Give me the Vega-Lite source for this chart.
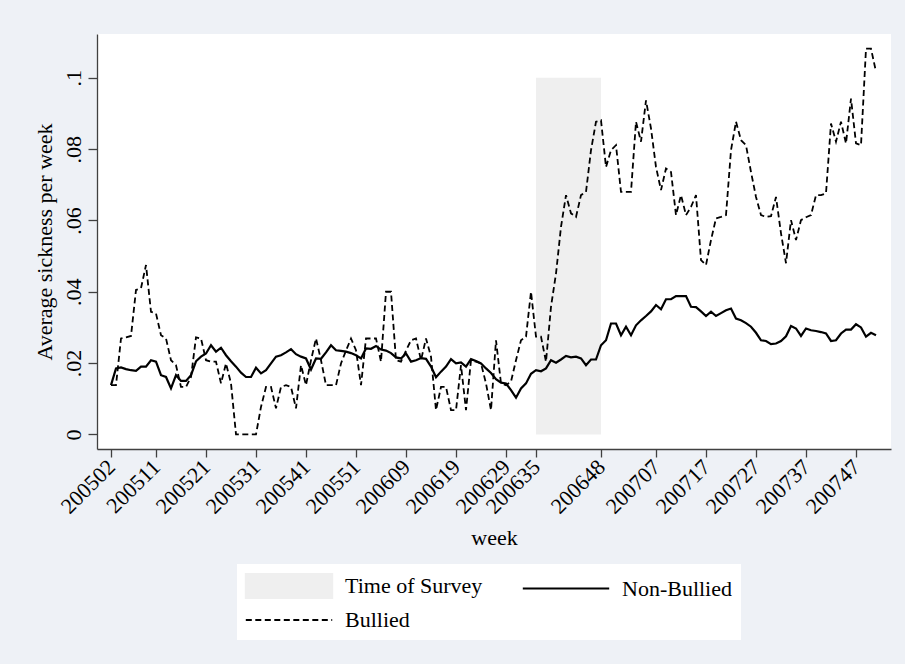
{
  "$schema": "https://vega.github.io/schema/vega-lite/v6.json",
  "width": 794,
  "height": 415,
  "autosize": "none",
  "padding": {"left": 97, "top": 34, "right": 14, "bottom": 215},
  "background": "#eef1f6",
  "config": {
    "view": {"stroke": null, "fill": "white"},
    "font": "Liberation Serif",
    "axis": {
      "labelFont": "Liberation Serif",
      "titleFont": "Liberation Serif",
      "labelFontSize": 22,
      "titleFontSize": 22,
      "titleFontWeight": "normal",
      "labelColor": "black",
      "titleColor": "black",
      "domainColor": "#404040",
      "tickColor": "#404040",
      "domainWidth": 1.3,
      "tickWidth": 1.3,
      "grid": false
    },
    "legend": {
      "labelFont": "Liberation Serif",
      "labelFontSize": 22,
      "labelColor": "black"
    }
  },
  "datasets": {
    "sickness": [
      {"t":0,"nonbullied":0.0138,"bullied":0.0138},
      {"t":1,"nonbullied":0.0185,"bullied":0.0138},
      {"t":2,"nonbullied":0.0188,"bullied":0.0269},
      {"t":3,"nonbullied":0.0183,"bullied":0.0272},
      {"t":4,"nonbullied":0.018,"bullied":0.0276},
      {"t":5,"nonbullied":0.0178,"bullied":0.0405},
      {"t":6,"nonbullied":0.019,"bullied":0.041},
      {"t":7,"nonbullied":0.019,"bullied":0.0475},
      {"t":8,"nonbullied":0.0208,"bullied":0.0344},
      {"t":9,"nonbullied":0.0204,"bullied":0.0339},
      {"t":10,"nonbullied":0.0166,"bullied":0.0278},
      {"t":11,"nonbullied":0.0161,"bullied":0.0269},
      {"t":12,"nonbullied":0.0129,"bullied":0.0208},
      {"t":13,"nonbullied":0.0166,"bullied":0.0194},
      {"t":14,"nonbullied":0.015,"bullied":0.0133},
      {"t":15,"nonbullied":0.015,"bullied":0.0133},
      {"t":16,"nonbullied":0.0166,"bullied":0.0161},
      {"t":17,"nonbullied":0.0205,"bullied":0.0272},
      {"t":18,"nonbullied":0.0218,"bullied":0.0269},
      {"t":19,"nonbullied":0.0227,"bullied":0.0208},
      {"t":20,"nonbullied":0.025,"bullied":0.0204},
      {"t":21,"nonbullied":0.0232,"bullied":0.0204},
      {"t":22,"nonbullied":0.0243,"bullied":0.0143},
      {"t":23,"nonbullied":0.0222,"bullied":0.0199},
      {"t":24,"nonbullied":0.0205,"bullied":0.0143},
      {"t":25,"nonbullied":0.019,"bullied":0},
      {"t":26,"nonbullied":0.0173,"bullied":0},
      {"t":27,"nonbullied":0.0161,"bullied":0},
      {"t":28,"nonbullied":0.0161,"bullied":0},
      {"t":29,"nonbullied":0.0187,"bullied":0},
      {"t":30,"nonbullied":0.0171,"bullied":0.0077},
      {"t":31,"nonbullied":0.018,"bullied":0.0133},
      {"t":32,"nonbullied":0.0199,"bullied":0.0133},
      {"t":33,"nonbullied":0.0218,"bullied":0.0073},
      {"t":34,"nonbullied":0.0222,"bullied":0.0133},
      {"t":35,"nonbullied":0.023,"bullied":0.0138},
      {"t":36,"nonbullied":0.0239,"bullied":0.0133},
      {"t":37,"nonbullied":0.0225,"bullied":0.0073},
      {"t":38,"nonbullied":0.0218,"bullied":0.0194},
      {"t":39,"nonbullied":0.0213,"bullied":0.0138},
      {"t":40,"nonbullied":0.0182,"bullied":0.0208},
      {"t":41,"nonbullied":0.0213,"bullied":0.0269},
      {"t":42,"nonbullied":0.0212,"bullied":0.0208},
      {"t":43,"nonbullied":0.023,"bullied":0.0138},
      {"t":44,"nonbullied":0.025,"bullied":0.0138},
      {"t":45,"nonbullied":0.0236,"bullied":0.0138},
      {"t":46,"nonbullied":0.0234,"bullied":0.0199},
      {"t":47,"nonbullied":0.0232,"bullied":0.0235},
      {"t":48,"nonbullied":0.0228,"bullied":0.0269},
      {"t":49,"nonbullied":0.0222,"bullied":0.0236},
      {"t":50,"nonbullied":0.0213,"bullied":0.0138},
      {"t":51,"nonbullied":0.0241,"bullied":0.0269},
      {"t":52,"nonbullied":0.024,"bullied":0.0269},
      {"t":53,"nonbullied":0.0248,"bullied":0.0269},
      {"t":54,"nonbullied":0.0238,"bullied":0.0204},
      {"t":55,"nonbullied":0.0235,"bullied":0.04},
      {"t":56,"nonbullied":0.0228,"bullied":0.04},
      {"t":57,"nonbullied":0.0216,"bullied":0.0208},
      {"t":58,"nonbullied":0.0213,"bullied":0.0204},
      {"t":59,"nonbullied":0.0227,"bullied":0.0235},
      {"t":60,"nonbullied":0.0204,"bullied":0.0264},
      {"t":61,"nonbullied":0.0208,"bullied":0.0269},
      {"t":62,"nonbullied":0.0214,"bullied":0.0208},
      {"t":63,"nonbullied":0.0212,"bullied":0.0269},
      {"t":64,"nonbullied":0.019,"bullied":0.0218},
      {"t":65,"nonbullied":0.016,"bullied":0.0068},
      {"t":66,"nonbullied":0.0176,"bullied":0.0133},
      {"t":67,"nonbullied":0.019,"bullied":0.0133},
      {"t":68,"nonbullied":0.0211,"bullied":0.0068},
      {"t":69,"nonbullied":0.0199,"bullied":0.0068},
      {"t":70,"nonbullied":0.0202,"bullied":0.0194},
      {"t":71,"nonbullied":0.019,"bullied":0.0068},
      {"t":72,"nonbullied":0.0211,"bullied":0.0208},
      {"t":73,"nonbullied":0.0206,"bullied":0.0204},
      {"t":74,"nonbullied":0.0199,"bullied":0.0199},
      {"t":75,"nonbullied":0.0185,"bullied":0.0143},
      {"t":76,"nonbullied":0.0172,"bullied":0.0068},
      {"t":77,"nonbullied":0.0155,"bullied":0.0264},
      {"t":78,"nonbullied":0.0145,"bullied":0.0143},
      {"t":79,"nonbullied":0.0143,"bullied":0.0138},
      {"t":80,"nonbullied":0.0124,"bullied":0.0148},
      {"t":81,"nonbullied":0.0103,"bullied":0.0208},
      {"t":82,"nonbullied":0.0129,"bullied":0.0264},
      {"t":83,"nonbullied":0.0143,"bullied":0.0274},
      {"t":84,"nonbullied":0.017,"bullied":0.04},
      {"t":85,"nonbullied":0.018,"bullied":0.0274},
      {"t":86,"nonbullied":0.0177,"bullied":0.0274},
      {"t":87,"nonbullied":0.0185,"bullied":0.0204},
      {"t":88,"nonbullied":0.0208,"bullied":0.0358},
      {"t":89,"nonbullied":0.0201,"bullied":0.0451},
      {"t":90,"nonbullied":0.021,"bullied":0.0582},
      {"t":91,"nonbullied":0.022,"bullied":0.0671},
      {"t":92,"nonbullied":0.0216,"bullied":0.062},
      {"t":93,"nonbullied":0.0218,"bullied":0.061},
      {"t":94,"nonbullied":0.0213,"bullied":0.0671},
      {"t":95,"nonbullied":0.0194,"bullied":0.068},
      {"t":96,"nonbullied":0.021,"bullied":0.0797},
      {"t":97,"nonbullied":0.021,"bullied":0.0877},
      {"t":98,"nonbullied":0.025,"bullied":0.0881},
      {"t":99,"nonbullied":0.0264,"bullied":0.075},
      {"t":100,"nonbullied":0.0311,"bullied":0.0797},
      {"t":101,"nonbullied":0.0311,"bullied":0.0811},
      {"t":102,"nonbullied":0.0278,"bullied":0.068},
      {"t":103,"nonbullied":0.0302,"bullied":0.068},
      {"t":104,"nonbullied":0.0278,"bullied":0.068},
      {"t":105,"nonbullied":0.0306,"bullied":0.0877},
      {"t":106,"nonbullied":0.032,"bullied":0.0821},
      {"t":107,"nonbullied":0.0332,"bullied":0.0937},
      {"t":108,"nonbullied":0.0345,"bullied":0.0858},
      {"t":109,"nonbullied":0.0363,"bullied":0.075},
      {"t":110,"nonbullied":0.0351,"bullied":0.0685},
      {"t":111,"nonbullied":0.0379,"bullied":0.0746},
      {"t":112,"nonbullied":0.0379,"bullied":0.0736},
      {"t":113,"nonbullied":0.0388,"bullied":0.0615},
      {"t":114,"nonbullied":0.0388,"bullied":0.0671},
      {"t":115,"nonbullied":0.0388,"bullied":0.0615},
      {"t":116,"nonbullied":0.0358,"bullied":0.0638},
      {"t":117,"nonbullied":0.0357,"bullied":0.0671},
      {"t":118,"nonbullied":0.0345,"bullied":0.0489},
      {"t":119,"nonbullied":0.0332,"bullied":0.0475},
      {"t":120,"nonbullied":0.0344,"bullied":0.0545},
      {"t":121,"nonbullied":0.0332,"bullied":0.0606},
      {"t":122,"nonbullied":0.034,"bullied":0.061},
      {"t":123,"nonbullied":0.0348,"bullied":0.0615},
      {"t":124,"nonbullied":0.0353,"bullied":0.0797},
      {"t":125,"nonbullied":0.0325,"bullied":0.0877},
      {"t":126,"nonbullied":0.032,"bullied":0.0825},
      {"t":127,"nonbullied":0.0312,"bullied":0.0811},
      {"t":128,"nonbullied":0.0302,"bullied":0.0736},
      {"t":129,"nonbullied":0.0285,"bullied":0.0666},
      {"t":130,"nonbullied":0.0264,"bullied":0.0615},
      {"t":131,"nonbullied":0.0262,"bullied":0.061},
      {"t":132,"nonbullied":0.0253,"bullied":0.0612},
      {"t":133,"nonbullied":0.0255,"bullied":0.0666},
      {"t":134,"nonbullied":0.0262,"bullied":0.0564},
      {"t":135,"nonbullied":0.0275,"bullied":0.048},
      {"t":136,"nonbullied":0.0304,"bullied":0.0601},
      {"t":137,"nonbullied":0.0297,"bullied":0.0545},
      {"t":138,"nonbullied":0.0276,"bullied":0.0601},
      {"t":139,"nonbullied":0.0297,"bullied":0.0609},
      {"t":140,"nonbullied":0.0292,"bullied":0.0615},
      {"t":141,"nonbullied":0.029,"bullied":0.0671},
      {"t":142,"nonbullied":0.0287,"bullied":0.0671},
      {"t":143,"nonbullied":0.0283,"bullied":0.0676},
      {"t":144,"nonbullied":0.0262,"bullied":0.0872},
      {"t":145,"nonbullied":0.0264,"bullied":0.0821},
      {"t":146,"nonbullied":0.0283,"bullied":0.0877},
      {"t":147,"nonbullied":0.0294,"bullied":0.0816},
      {"t":148,"nonbullied":0.0294,"bullied":0.0942},
      {"t":149,"nonbullied":0.0309,"bullied":0.0816},
      {"t":150,"nonbullied":0.03,"bullied":0.0811},
      {"t":151,"nonbullied":0.0274,"bullied":0.1082},
      {"t":152,"nonbullied":0.0285,"bullied":0.1082},
      {"t":153,"nonbullied":0.0278,"bullied":0.1017}
    ],
    "survey": [
      {"start": 85, "end": 98, "low": 0, "high": 0.1}
    ]
  },
  "layer": [
    {
      "data": {"name": "survey"},
      "mark": {"type": "rect"},
      "encoding": {
        "x": {
          "field": "start",
          "type": "quantitative",
          "scale": {"domain": [-2.8, 156], "nice": false, "zero": false},
          "axis": {
            "title": "week",
            "values": [0, 9, 19, 29, 39, 49, 59, 69, 79, 85, 98, 109, 119, 129, 139, 149],
            "labelExpr": "datum.value <= 50 ? '2005' + (datum.value < 8 ? '0' : '') + (datum.value + 2) : datum.value <= 102 ? '2006' + (datum.value < 60 ? '0' : '') + (datum.value - 50) : '2007' + (datum.value < 112 ? '0' : '') + (datum.value - 102)",
            "labelAngle": -45,
            "labelAlign": "right",
            "labelBaseline": "middle",
            "labelOverlap": false,
            "labelFlush": false,
            "labelBound": false,
            "tickSize": 8,
            "labelPadding": 6,
            "titlePadding": 10
          }
        },
        "x2": {"field": "end"},
        "y": {
          "field": "low",
          "type": "quantitative",
          "scale": {"domain": [-0.0041, 0.1123], "nice": false, "zero": false},
          "axis": {
            "title": "Average sickness per week",
            "values": [0, 0.02, 0.04, 0.06, 0.08, 0.1],
            "labelExpr": "datum.value == 0 ? '0' : replace(format(datum.value, '.2~f'), '0.', '.')",
            "labelAngle": -90,
            "labelAlign": "center",
            "labelBaseline": "alphabetic",
            "tickSize": 9,
            "labelPadding": 8,
            "titlePadding": 6
          }
        },
        "y2": {"field": "high"},
        "color": {
          "datum": "Time of Survey",
          "type": "nominal",
          "scale": {
            "domain": ["Time of Survey", "Non-Bullied", "Bullied"],
            "range": ["#efefef", "black", "black"]
          },
          "legend": {
            "title": null,
            "orient": "none",
            "legendX": 140,
            "legendY": 530,
            "direction": "horizontal",
            "columns": 2,
            "columnPadding": 35,
            "rowPadding": 5,
            "padding": 9,
            "fillColor": "white",
            "symbolSize": 576,
            "symbolOffset": 30,
            "labelOffset": 43,
            "symbolStrokeWidth": 2,
            "encode": {
              "symbols": {
                "update": {
                  "shape": {"signal": "datum.value === 'Time of Survey' ? 'M-3.6,-1H3.6V1H-3.6Z' : 'M-3.6,0H3.6'"},
                  "fill": {"signal": "datum.value === 'Time of Survey' ? '#efefef' : 'transparent'"},
                  "stroke": {"signal": "datum.value === 'Time of Survey' ? 'transparent' : 'black'"},
                  "strokeDash": {"signal": "datum.value === 'Bullied' ? [6, 3.5] : [1, 0]"},
                  "strokeWidth": {"value": 2},
                  "opacity": {"value": 1}
                }
              }
            }
          }
        }
      }
    },
    {
      "data": {"name": "sickness"},
      "mark": {"type": "line", "strokeWidth": 2.2},
      "encoding": {
        "x": {"field": "t", "type": "quantitative"},
        "y": {"field": "nonbullied", "type": "quantitative"},
        "color": {"datum": "Non-Bullied", "type": "nominal"}
      }
    },
    {
      "data": {"name": "sickness"},
      "mark": {"type": "line", "strokeWidth": 1.8, "strokeDash": [6, 3.5]},
      "encoding": {
        "x": {"field": "t", "type": "quantitative"},
        "y": {"field": "bullied", "type": "quantitative"},
        "color": {"datum": "Bullied", "type": "nominal"}
      }
    }
  ]
}
